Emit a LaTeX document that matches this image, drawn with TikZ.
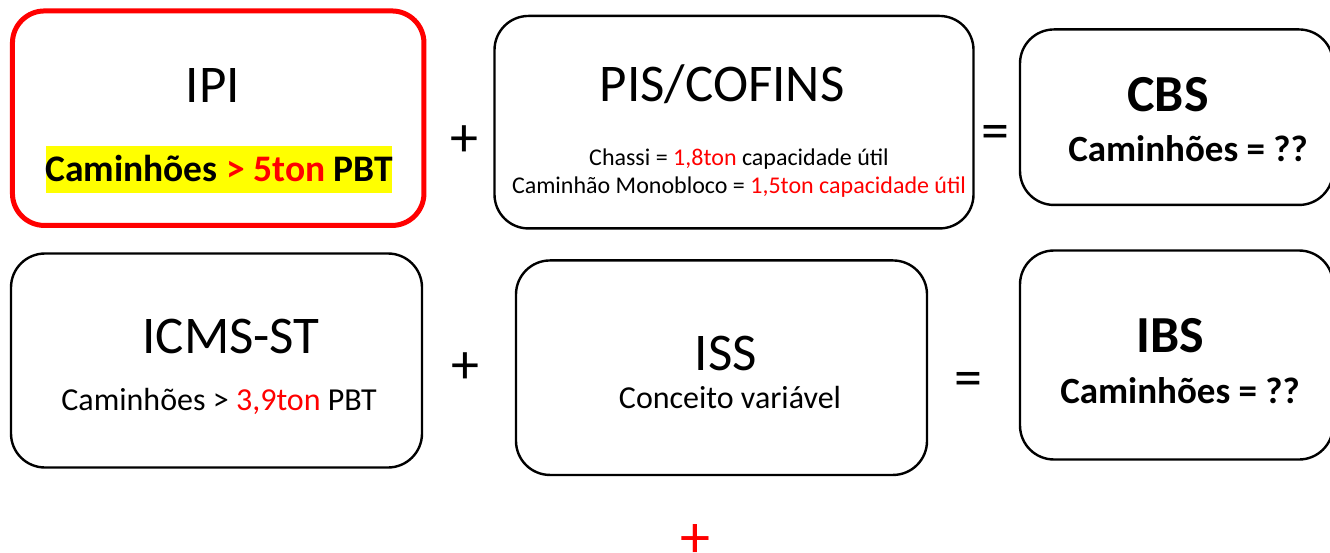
\documentclass[tikz,border=0pt]{standalone}
\usepackage{fontspec}
\setmainfont{Carlito}
\definecolor{tred}{RGB}{255,0,0}
\definecolor{tyellow}{RGB}{255,255,0}
\tikzset{
  frame/.style={draw=black, line width=2.4pt, rounded corners=34pt, inner sep=0pt, outer sep=0pt},
  redframe/.style={frame, draw=tred, line width=5pt, rounded corners=32pt},
  title/.style={anchor=base, inner sep=0pt, font=\fontsize{53}{60}\selectfont},
  btitle/.style={anchor=base, inner sep=0pt, font=\fontsize{52}{60}\selectfont\bfseries},
  sub/.style={anchor=base, inner sep=0pt, font=\fontsize{32}{38}\selectfont},
  bsub/.style={anchor=base, inner sep=0pt, font=\fontsize{37}{42}\selectfont\bfseries},
  small/.style={anchor=base, inner sep=0pt, font=\fontsize{24}{28}\selectfont},
  op/.style={inner sep=0pt, font=\fontsize{56}{60}\selectfont},
}
\begin{document}
\begin{tikzpicture}[x=1pt,y=-1pt]
\useasboundingbox (0,0) rectangle (1330,553);
\clip (0,0) rectangle (1330,553);
% boxes
\node[redframe, minimum width=411.5pt, minimum height=214.5pt] (ipi) at (218.2,118.2) {};
\node[frame, minimum width=479pt, minimum height=212.5pt] (pis) at (734,122.2) {};
\node[frame, minimum width=313pt, minimum height=175.5pt] (cbs) at (1176.5,117.2) {};
\node[frame, minimum width=411pt, minimum height=214pt] (icms) at (216.5,360.5) {};
\node[frame, minimum width=411pt, minimum height=214.5pt] (iss) at (721.5,367.7) {};
\node[frame, minimum width=313pt, minimum height=209pt] (ibs) at (1176.5,355) {};
% IPI
\node[title] (ipit) at (213,103) {IPI};
\node[fill=tyellow, inner sep=0pt, minimum width=346pt, minimum height=47pt] (hl) at (219,169.5) {};
\node[anchor=base, inner sep=0pt, font=\fontsize{37.5}{42}\selectfont\bfseries] (ipis) at (219,182) {Caminhões \textcolor{tred}{> 5ton} PBT};
% PIS/COFINS
\node[title] (pist) at (722,102) {PIS/COFINS};
\node[small] (pis1) at (739,166) {Chassi = \textcolor{tred}{1,8ton} capacidade útil};
\node[small] (pis2) at (739,194) {Caminhão Monobloco = \textcolor{tred}{1,5ton capacidade útil}};
% CBS
\node[btitle] (cbst) at (1168,112) {CBS};
\node[bsub] (cbss) at (1188,162) {Caminhões = ??};
% ICMS-ST
\node[title] (icmst) at (231,353) {ICMS-ST};
\node[sub] (icmss) at (219,410) {Caminhões > \textcolor{tred}{3,9ton} PBT};
% ISS
\node[title] (isst) at (726,370) {ISS};
\node[sub] (isss) at (730,408) {Conceito variável};
% IBS
\node[btitle] (ibst) at (1170,352) {IBS};
\node[bsub] (ibss) at (1180,403) {Caminhões = ??};
% operators
\node[op] (plus1) at (464,141) {+};
\node[op] (eq1) at (995,137) {=};
\node[op] (plus2) at (465,368) {+};
\node[op] (eq2) at (968,384) {=};
\node[op, text=tred, font=\fontsize{60}{60}\selectfont] (plus3) at (695.5,541.5) {+};
\end{tikzpicture}
\end{document}
